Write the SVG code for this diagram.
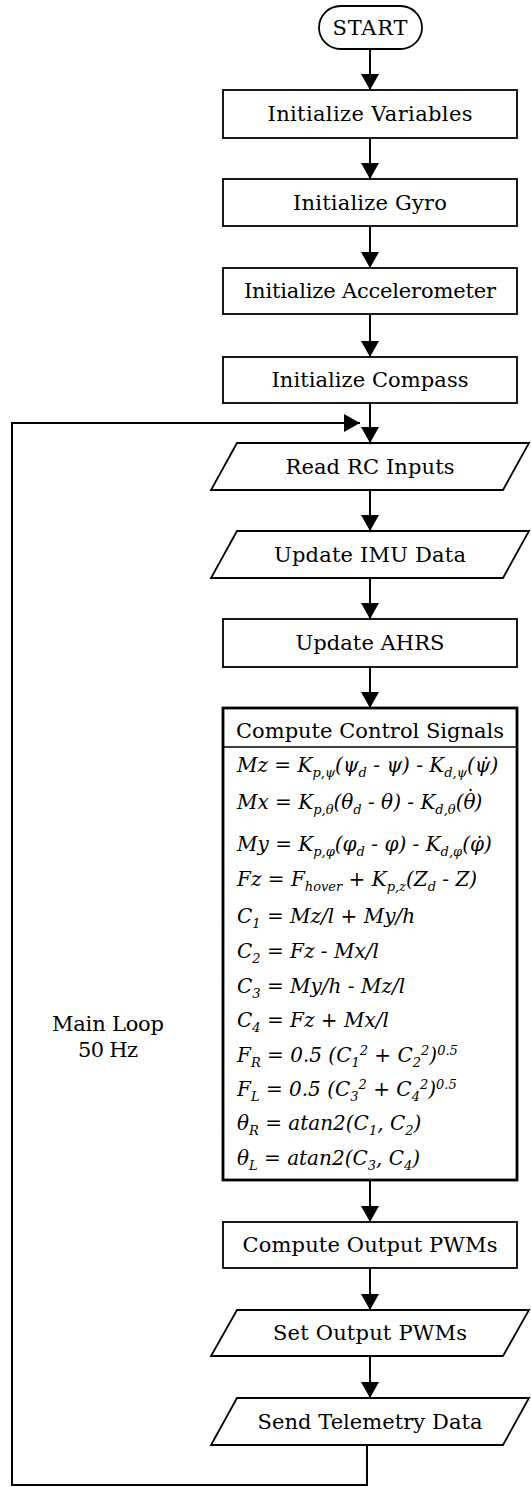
<svg xmlns="http://www.w3.org/2000/svg" width="531" height="1487" viewBox="0 0 531 1487">
<style>
.n{fill:#fff;stroke:#000;stroke-width:1.8}
.b{fill:#fff;stroke:#000;stroke-width:2.8}
.t{font-family:"DejaVu Serif","Liberation Serif",serif;font-size:21px;fill:#000;text-anchor:middle}
.e{font-family:"DejaVu Serif","Liberation Serif",serif;font-size:20px;font-style:italic;fill:#000}
.s{font-size:13px}
.c{fill:none;stroke:#000;stroke-width:2}
</style>
<defs>
<marker id="ah" markerUnits="userSpaceOnUse" markerWidth="16" markerHeight="18" viewBox="0 0 16 18" refX="16" refY="9" orient="auto"><path d="M0,0L16,9L0,18z" fill="#000"/></marker>
</defs>
<rect width="531" height="1487" fill="#fff"/>
<g id="connectors">
<path class="c" d="M370,49V90" marker-end="url(#ah)"/>
<path class="c" d="M370,138V179" marker-end="url(#ah)"/>
<path class="c" d="M370,226V268" marker-end="url(#ah)"/>
<path class="c" d="M370,314V357" marker-end="url(#ah)"/>
<path class="c" d="M370,403V443" marker-end="url(#ah)"/>
<path class="c" d="M370,490V531" marker-end="url(#ah)"/>
<path class="c" d="M370,578V619" marker-end="url(#ah)"/>
<path class="c" d="M370,667V708" marker-end="url(#ah)"/>
<path class="c" d="M370,1180V1222" marker-end="url(#ah)"/>
<path class="c" d="M370,1268V1310" marker-end="url(#ah)"/>
<path class="c" d="M370,1356V1398" marker-end="url(#ah)"/>
<path class="c" d="M367,1445V1485H12V423H360" marker-end="url(#ah)"/>
</g>
<g id="start"><rect class="n" x="319" y="6" width="103" height="43" rx="21.5"/><text class="t" x="370" y="35" textLength="75">START</text></g>
<g id="init-vars"><rect class="n" x="223" y="90" width="294" height="48"/><text class="t" x="370" y="121" textLength="205">Initialize Variables</text></g>
<g id="init-gyro"><rect class="n" x="223" y="179" width="294" height="47"/><text class="t" x="370" y="209.5" textLength="154">Initialize Gyro</text></g>
<g id="init-accel"><rect class="n" x="223" y="268" width="294" height="46"/><text class="t" x="370" y="298" textLength="252">Initialize Accelerometer</text></g>
<g id="init-compass"><rect class="n" x="223" y="357" width="294" height="46"/><text class="t" x="370" y="387" textLength="197">Initialize Compass</text></g>
<g id="read-rc"><path class="n" d="M237,443H529L503,490H211Z"/><text class="t" x="370" y="473.5" textLength="169">Read RC Inputs</text></g>
<g id="update-imu"><path class="n" d="M237,531H529L503,578H211Z"/><text class="t" x="370" y="561.5" textLength="192">Update IMU Data</text></g>
<g id="update-ahrs"><rect class="n" x="223" y="619" width="294" height="48"/><text class="t" x="370" y="650" textLength="149">Update AHRS</text></g>
<g id="compute-control">
<rect class="b" x="223" y="708" width="294" height="472"/>
<line x1="223" y1="747" x2="517" y2="747" stroke="#000" stroke-width="1.6"/>
<text class="t" x="370" y="738" textLength="268">Compute Control Signals</text>
<text class="e" x="237" y="772">Mz = K<tspan class="s" dy="5">p,ψ</tspan><tspan dy="-5">(ψ</tspan><tspan class="s" dy="5">d</tspan><tspan dy="-5"> - ψ) - K</tspan><tspan class="s" dy="5">d,ψ</tspan><tspan dy="-5">(ψ̇)</tspan></text>
<text class="e" x="237" y="809">Mx = K<tspan class="s" dy="5">p,θ</tspan><tspan dy="-5">(θ</tspan><tspan class="s" dy="5">d</tspan><tspan dy="-5"> - θ) - K</tspan><tspan class="s" dy="5">d,θ</tspan><tspan dy="-5">(θ</tspan><tspan dx="-10" dy="-5" font-style="normal">˙</tspan><tspan dx="-1" dy="5">)</tspan></text>
<text class="e" x="237" y="851">My = K<tspan class="s" dy="5">p,φ</tspan><tspan dy="-5">(φ</tspan><tspan class="s" dy="5">d</tspan><tspan dy="-5"> - φ) - K</tspan><tspan class="s" dy="5">d,φ</tspan><tspan dy="-5">(φ̇)</tspan></text>
<text class="e" x="237" y="886">Fz = F<tspan class="s" dy="5">hover</tspan><tspan dy="-5"> + K</tspan><tspan class="s" dy="5">p,z</tspan><tspan dy="-5">(Z</tspan><tspan class="s" dy="5">d</tspan><tspan dy="-5"> - Z)</tspan></text>
<text class="e" x="237" y="923">C<tspan class="s" dy="5">1</tspan><tspan dy="-5"> = Mz/l + My/h</tspan></text>
<text class="e" x="237" y="958">C<tspan class="s" dy="5">2</tspan><tspan dy="-5"> = Fz - Mx/l</tspan></text>
<text class="e" x="237" y="993">C<tspan class="s" dy="5">3</tspan><tspan dy="-5"> = My/h - Mz/l</tspan></text>
<text class="e" x="237" y="1027">C<tspan class="s" dy="5">4</tspan><tspan dy="-5"> = Fz + Mx/l</tspan></text>
<text class="e" x="237" y="1062">F<tspan class="s" dy="5">R</tspan><tspan dy="-5"> = 0.5 (C</tspan><tspan class="s" dy="5">1</tspan><tspan class="s" dy="-12">2</tspan><tspan dy="7"> + C</tspan><tspan class="s" dy="5">2</tspan><tspan class="s" dy="-12">2</tspan><tspan dy="7">)</tspan><tspan class="s" dy="-7">0.5</tspan></text>
<text class="e" x="237" y="1096">F<tspan class="s" dy="5">L</tspan><tspan dy="-5"> = 0.5 (C</tspan><tspan class="s" dy="5">3</tspan><tspan class="s" dy="-12">2</tspan><tspan dy="7"> + C</tspan><tspan class="s" dy="5">4</tspan><tspan class="s" dy="-12">2</tspan><tspan dy="7">)</tspan><tspan class="s" dy="-7">0.5</tspan></text>
<text class="e" x="237" y="1130">θ<tspan class="s" dy="5">R</tspan><tspan dy="-5"> = atan2(C</tspan><tspan class="s" dy="5">1</tspan><tspan dy="-5">, C</tspan><tspan class="s" dy="5">2</tspan><tspan dy="-5">)</tspan></text>
<text class="e" x="237" y="1165">θ<tspan class="s" dy="5">L</tspan><tspan dy="-5"> = atan2(C</tspan><tspan class="s" dy="5">3</tspan><tspan dy="-5">, C</tspan><tspan class="s" dy="5">4</tspan><tspan dy="-5">)</tspan></text>
</g>
<g id="compute-pwm"><rect class="n" x="223" y="1222" width="294" height="46"/><text class="t" x="370" y="1252" textLength="255">Compute Output PWMs</text></g>
<g id="set-pwm"><path class="n" d="M237,1310H529L503,1356H211Z"/><text class="t" x="370" y="1340" textLength="194">Set Output PWMs</text></g>
<g id="send-telemetry"><path class="n" d="M237,1398H529L503,1445H211Z"/><text class="t" x="370" y="1428.5" textLength="225">Send Telemetry Data</text></g>
<g id="loop-label"><text class="t" x="108" y="1031" textLength="112">Main Loop</text><text class="t" x="108" y="1057" textLength="60">50 Hz</text></g>
</svg>
